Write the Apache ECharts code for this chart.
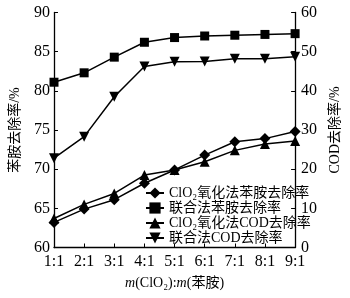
<!DOCTYPE html>
<html><head><meta charset="utf-8">
<script src="https://cdn.jsdelivr.net/npm/echarts@6/dist/echarts.min.js"></script>
<style>html,body{margin:0;padding:0;background:#fff}#c{width:350px;height:298px}</style>
</head><body><div id="c"></div>
<script>
var categories = ['1:1','2:1','3:1','4:1','5:1','6:1','7:1','8:1','9:1'];
var clo2Aniline = [63.2, 64.9, 66.1, 68.2, 69.9, 71.8, 73.5, 73.9, 74.8];
var combAniline = [81.1, 82.3, 84.3, 86.2, 86.8, 87.0, 87.1, 87.2, 87.3];
var clo2COD = [7.4, 11.0, 13.8, 18.5, 19.8, 21.9, 24.8, 26.4, 27.2];
var combCOD = [22.8, 28.3, 38.5, 46.2, 47.4, 47.5, 48.2, 48.2, 48.7];
var seriesNames = ['ClO₂氧化法苯胺去除率','联合法苯胺去除率','ClO₂氧化法COD去除率','联合法COD去除率'];

var FF = '"Liberation Serif","Times New Roman","Noto Sans CJK SC",serif';
var chart = echarts.init(document.getElementById('c'));
function s(name, data, sym, size, axis) {
  return {name:name, type:'line', data:data, yAxisIndex:axis, symbol:sym, symbolSize:size,
    showSymbol:true, lineStyle:{color:'#000', width:1.5}, itemStyle:{color:'#000'},
    emphasis:{disabled:true}, animation:false};
}
chart.setOption({
  animation:false,
  textStyle:{fontFamily:FF},
  grid:{left:49, right:46, top:12.5, bottom:50.5},
  legend:{orient:'vertical', left:140, top:181, itemGap:1, itemWidth:18, itemHeight:14,
    data:seriesNames, textStyle:{fontFamily:FF, fontSize:14, color:'#000', lineHeight:14}},
  xAxis:{type:'category', data:categories, boundaryGap:false,
    axisLine:{lineStyle:{color:'#000', width:1.3}},
    axisTick:{inside:true, length:4, alignWithLabel:true, lineStyle:{color:'#000'}},
    axisLabel:{color:'#000', fontSize:16, fontFamily:FF, margin:6},
    name:'{i|m}(ClO₂):{i|m}(苯胺)', nameLocation:'middle', nameGap:29,
    nameTextStyle:{color:'#000', fontSize:14, fontFamily:FF,
      rich:{i:{fontStyle:'italic', fontSize:14, fontFamily:FF, color:'#000'}}}},
  yAxis:[
    {type:'value', min:60, max:90, interval:5, splitLine:{show:false},
     axisLine:{show:true, lineStyle:{color:'#000', width:1.3}},
     axisTick:{show:true, inside:true, length:4, lineStyle:{color:'#000'}},
     axisLabel:{color:'#000', fontSize:16, fontFamily:FF, margin:4},
     name:'苯胺去除率/%', nameLocation:'middle', nameGap:32, nameRotate:90,
     nameTextStyle:{color:'#000', fontSize:14, fontFamily:FF}},
    {type:'value', min:0, max:60, interval:10, splitLine:{show:false}, position:'right',
     axisLine:{show:true, lineStyle:{color:'#000', width:1.3}},
     axisTick:{show:true, inside:true, length:4, lineStyle:{color:'#000'}},
     axisLabel:{color:'#000', fontSize:16, fontFamily:FF, margin:6},
     name:'COD去除率/%', nameLocation:'middle', nameGap:32, nameRotate:90,
     nameTextStyle:{color:'#000', fontSize:14, fontFamily:FF}}
  ],
  series:[
    s(seriesNames[0], clo2Aniline, 'diamond', 11, 0),
    s(seriesNames[1], combAniline, 'rect', 9, 0),
    s(seriesNames[2], clo2COD, 'triangle', 10, 1),
    s(seriesNames[3], combCOD, 'path://M0,0 L10,0 L5,9 Z', 10, 1)
  ]
});
</script></body></html>
